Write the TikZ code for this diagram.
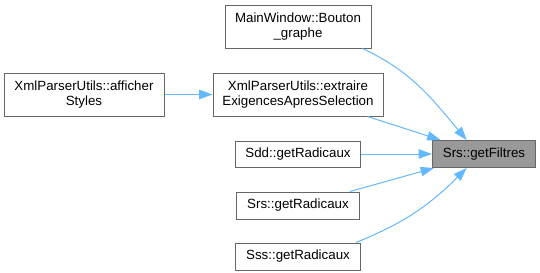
\documentclass[tikz,border=0pt]{standalone}
\usepackage{fontspec}
\setmainfont{Liberation Sans}
\usetikzlibrary{arrows.meta,positioning}
\definecolor{edgeblue}{RGB}{99,184,255}
\definecolor{boxgray}{RGB}{102,102,102}
\definecolor{hilite}{RGB}{153,153,153}

\begin{document}
\begin{tikzpicture}[
            x=0.75pt, y=-0.75pt,
            func/.style={rectangle, draw=boxgray, line width=0.75pt, fill=white, align=center, inner sep=0pt, minimum height=20.25pt, font=\fontsize{10}{11.5}\selectfont},
            call/.style={-{Triangle[length=10pt,width=7pt]}, draw=edgeblue, line width=0.75pt}
        ]
            \useasboundingbox (0,0) rectangle (540,272);
            \node[func, minimum width=109.5pt, minimum height=32.25pt] (bouton) at (298,26.5) {MainWindow::Bouton\\\_graphe};
            \node[func, minimum width=127.5pt, minimum height=32.25pt, below=18pt of bouton] (extraire) {XmlParserUtils::extraire\\ExigencesApresSelection};
            \node[func, minimum width=120pt, minimum height=32.25pt, left=36pt of extraire] (afficher) {XmlParserUtils::afficher\\Styles};
            \node[func, minimum width=93.75pt, minimum height=19.5pt, below=18pt of extraire] (sdd) {Sdd::getRadicaux};
            \node[func, minimum width=92.25pt, below=18pt of sdd] (srsrad) {Srs::getRadicaux};
            \node[func, minimum width=93.75pt, below=17.25pt of srsrad] (sss) {Sss::getRadicaux};
            \node[func, fill=hilite, minimum width=77.25pt, right=53.25pt of sdd] (filtres) {Srs::getFiltres};
            % callers of getFiltres
            \draw[call] (afficher) -- (extraire);
            \draw[call] ([xshift=-6.75pt]bouton.south east) to[out=-25, in=130] ([xshift=-13pt]filtres.north);
            \draw[call] ([xshift=-12pt]extraire.south east) -- (filtres);
            \draw[call] (sdd) -- (filtres);
            \draw[call] ([xshift=-7.5pt]srsrad.north east) -- (filtres);
            \draw[call] ([xshift=-3.75pt]sss.north east) to[out=22, in=-135] ([xshift=-13pt]filtres.south);
        \end{tikzpicture}
\end{document}
